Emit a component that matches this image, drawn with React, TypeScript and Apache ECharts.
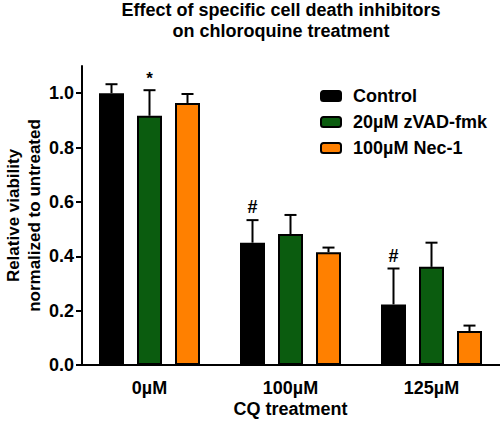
import React, { useEffect, useRef } from "react";
import * as echarts from "echarts";

const categories = ["0µM", "100µM", "125µM"];
const seriesNames = ["Control", "20µM zVAD-fmk", "100µM Nec-1"];
const seriesColors = ["#000000", "#0b5c0f", "#ff8000"];
const meanValues = [
  [1.0, 0.45, 0.223],
  [0.917, 0.482, 0.361],
  [0.964, 0.415, 0.125],
];
const errorValues = [
  [0.033, 0.083, 0.132],
  [0.094, 0.07, 0.089],
  [0.033, 0.017, 0.02],
];
const marks = [
  ["", "#", "#"],
  ["*", "", ""],
  ["", "", ""],
];
const yTicks = [0, 0.2, 0.4, 0.6, 0.8, 1.0];

const FONT = "Liberation Sans, Arial, Helvetica, sans-serif";
const BAR_W = 25;
const BAR_GAP = 13;

export default function App() {
  const ref = useRef<HTMLDivElement>(null);
  useEffect(() => {
    if (!ref.current) return;
    const chart = echarts.init(ref.current, null, { renderer: "svg" });
    const barSeries = seriesNames.map((name, si) => ({
      name,
      type: "bar",
      data: meanValues[si],
      barWidth: BAR_W,
      barGap: (BAR_GAP / BAR_W) * 100 + "%",
      itemStyle: { color: seriesColors[si], borderColor: "#000", borderWidth: 2 },
      z: 2,
    }));
    const errSeries = seriesNames.map((name, si) => ({
      type: "custom",
      name: name + "_err",
      data: meanValues[si].map((v, ci) => [ci, v, errorValues[si][ci]]),
      z: 1,
      renderItem: (params: any, api: any) => {
        const ci = api.value(0);
        const v = api.value(1);
        const e = api.value(2);
        const mk = marks[si][ci];
        const off = (si - 1) * (BAR_W + BAR_GAP);
        const base = api.coord([ci, v]);
        const top = api.coord([ci, v + e]);
        const x = base[0] + off;
        const children: any[] = [
          { type: "line", shape: { x1: x, y1: base[1], x2: x, y2: top[1] }, style: { stroke: "#000", lineWidth: 2 } },
          { type: "line", shape: { x1: x - 6, y1: top[1], x2: x + 6, y2: top[1] }, style: { stroke: "#000", lineWidth: 2 } },
        ];
        if (mk) {
          children.push({
            type: "text",
            style: {
              text: mk,
              x,
              y: top[1] - (mk === "*" ? 3 : 4),
              textAlign: "center",
              textVerticalAlign: "bottom",
              font: `bold ${mk === "*" ? 17 : 18}px ${FONT}`,
              fill: "#000",
            },
          });
        }
        return { type: "group", children };
      },
    }));
    chart.setOption({
      animation: false,
      backgroundColor: "#fff",
      title: {
        text: "Effect of specific cell death inhibitors\non chloroquine treatment",
        left: 281,
        top: -1,
        padding: 0,
        textAlign: "center",
        textStyle: { fontFamily: FONT, fontSize: 18, fontWeight: "bold", color: "#000", lineHeight: 21 },
      },
      legend: {
        data: seriesNames,
        orient: "vertical",
        left: 315,
        top: 82,
        itemWidth: 20,
        itemHeight: 10,
        itemGap: 8,
        textStyle: { fontFamily: FONT, fontSize: 18, fontWeight: "bold", color: "#000", lineHeight: 18, padding: [0, 0, 0, 7] },
      },
      grid: { left: 79, right: -2, top: 66, bottom: 60, containLabel: false, outerBoundsMode: "none" },
      xAxis: {
        type: "category",
        data: categories,
        name: "CQ treatment",
        nameLocation: "middle",
        nameGap: 35,
        nameMoveOverlap: false,
        nameTextStyle: { fontFamily: FONT, fontSize: 18, fontWeight: "bold", color: "#000" },
        axisLine: { lineStyle: { color: "#000", width: 2 } },
        axisTick: { alignWithLabel: true, length: 6, lineStyle: { color: "#000", width: 2 } },
        axisLabel: { fontFamily: FONT, fontSize: 18, fontWeight: "bold", color: "#000", margin: 14 },
      },
      yAxis: {
        type: "value",
        min: 0,
        max: 1.1,
        interval: 0.2,
        offset: -3,
        name: "Relative viability\nnormalized to untreated",
        nameLocation: "middle",
        nameGap: 37,
        nameMoveOverlap: false,
        nameTextStyle: { fontFamily: FONT, fontSize: 17, fontWeight: "bold", color: "#000", lineHeight: 21 },
        axisLine: { show: true, lineStyle: { color: "#000", width: 2 } },
        axisTick: { show: true, length: 6, lineStyle: { color: "#000", width: 2 }, customValues: yTicks },
        axisLabel: {
          fontFamily: FONT,
          fontSize: 18,
          fontWeight: "bold",
          color: "#000",
          margin: 8,
          customValues: yTicks,
          formatter: (v: number) => v.toFixed(1),
        },
        splitLine: { show: false },
      },
      series: [...barSeries, ...errSeries],
    });
    return () => chart.dispose();
  }, []);
  return <div ref={ref} style={{ position: "fixed", left: 0, top: 0, width: 500, height: 425 }} />;
}
